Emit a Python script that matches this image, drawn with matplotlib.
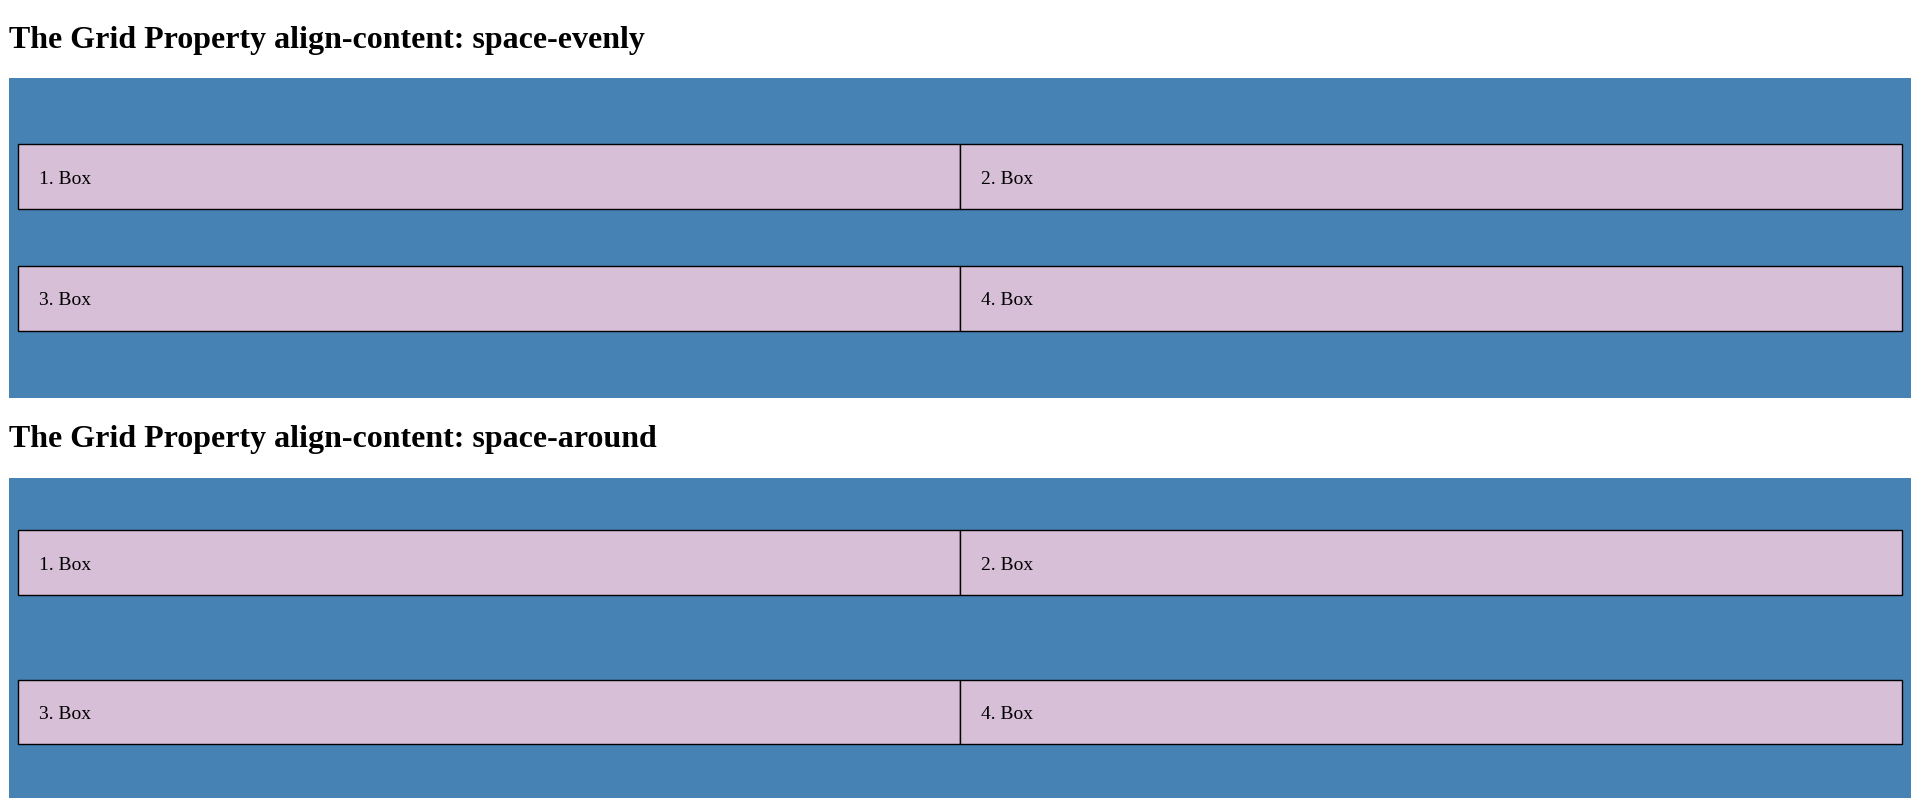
import matplotlib
matplotlib.use("Agg")
import matplotlib.pyplot as plt
from matplotlib.patches import Rectangle

titles = ["The Grid Property align-content: space-evenly",
          "The Grid Property align-content: space-around"]
box_labels = ["1. Box", "2. Box", "3. Box", "4. Box"]

# layout (in reference display px, 1568x655 canvas)
W, H = 1568, 655
title_y = [33, 359]
containers = [(64, 325), (390, 652)]
rows = [[(118, 171), (217, 270)], [(433, 486), (555, 608)]]
cols = [(15, 784), (784, 1553)]

fig = plt.figure(figsize=(19.2, 8.02), dpi=100)
ax = fig.add_axes([0, 0, 1, 1])
ax.set_xlim(0, W)
ax.set_ylim(H, 0)
ax.axis("off")

for s in range(2):
    ax.text(7, title_y[s], titles[s], fontsize=23, fontweight="bold",
            family="Liberation Serif", va="center", ha="left")
    y0, y1 = containers[s]
    ax.add_patch(Rectangle((7, y0), 1554, y1 - y0, facecolor="#4682B4", edgecolor="none"))
    i = 0
    for (r0, r1) in rows[s]:
        for (c0, c1) in cols:
            ax.add_patch(Rectangle((c0, r0), c1 - c0, r1 - r0, facecolor="#D8BFD8",
                                   edgecolor="black", linewidth=1))
            ax.text(c0 + 17, (r0 + r1) / 2 + 2, box_labels[i], fontsize=14,
                    family="Liberation Serif", va="center", ha="left")
            i += 1

fig.savefig("out.png", dpi=100)
